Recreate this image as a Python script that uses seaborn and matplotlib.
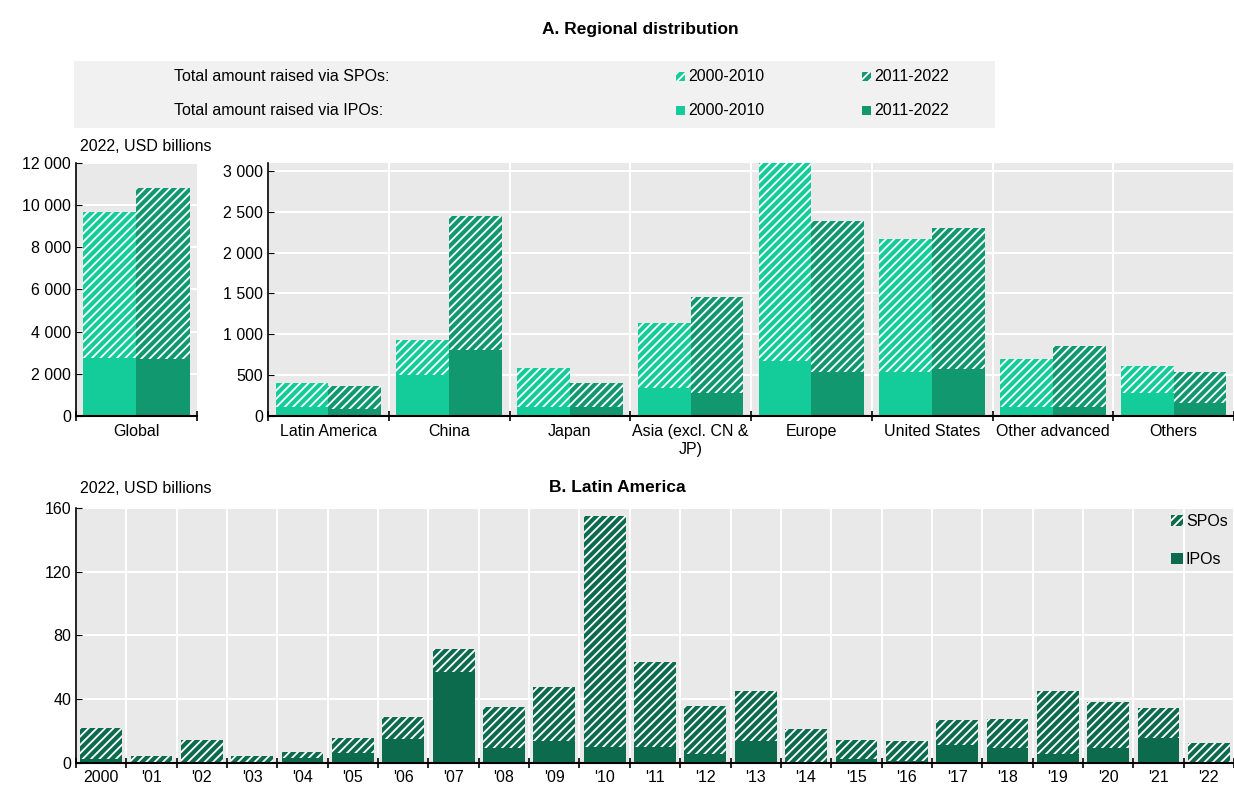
import matplotlib
matplotlib.use('Agg')
import matplotlib.pyplot as plt
from matplotlib.patches import Rectangle, Patch
from matplotlib.ticker import FuncFormatter, MultipleLocator, FixedLocator
import numpy as np
import pandas as pd
import seaborn as sns

# values (2022 USD billions)
periods = ['2000-2010', '2011-2022']
global_total = [9650, 10800]
global_ipo = [2750, 2700]

regions = ['Latin America', 'China', 'Japan', 'Asia (excl. CN &\nJP)', 'Europe',
           'United States', 'Other advanced', 'Others']
total_0010 = [400, 930, 590, 1140, 3150, 2165, 700, 607]
total_1122 = [372, 2445, 400, 1452, 2390, 2300, 852, 542]
ipo_0010 = [115, 505, 106, 342, 677, 534, 114, 281]
ipo_1122 = [82, 807, 106, 277, 542, 579, 114, 159]

years = ['2000', "'01", "'02", "'03", "'04", "'05", "'06", "'07", "'08", "'09", "'10",
         "'11", "'12", "'13", "'14", "'15", "'16", "'17", "'18", "'19", "'20", "'21", "'22"]
la_total = [22, 4.2, 14.3, 4.2, 6.7, 15.9, 28.7, 71.7, 35, 47.6, 155,
            63.3, 35.8, 45, 21.4, 14.3, 13.8, 26.8, 27.3, 45, 38, 34.8, 12.6]
la_ipo = [2.5, 0, 0, 0, 3.4, 6.3, 15.1, 56.8, 9.4, 13.8, 10,
          10, 5.5, 14, 0, 2.5, 1.3, 11.3, 9.6, 5.7, 9.6, 15.9, 0]

light = '#14cc99'
mid = '#11986f'
dark = '#0c6b4c'
bg = '#e9e9e9'
FS = 11.5
HATCH = '////'

plt.rcParams['font.family'] = ['Liberation Sans Narrow', 'Liberation Sans', 'DejaVu Sans']
plt.rcParams['font.size'] = FS
plt.rcParams['hatch.linewidth'] = 1.3
plt.rcParams['hatch.color'] = 'white'

fmt = FuncFormatter(lambda v, p: f'{v:,.0f}'.replace(',', ' '))


def style_ax(ax, n):
    ax.set_facecolor(bg)
    for s in ['top', 'right']:
        ax.spines[s].set_visible(False)
    ax.spines['left'].set_color('black')
    ax.spines['bottom'].set_color('black')
    ax.spines['left'].set_linewidth(1.2)
    ax.spines['bottom'].set_linewidth(1.5)
    ax.set_axisbelow(True)
    ax.grid(axis='y', color='white', lw=1.5)
    ax.xaxis.set_minor_locator(FixedLocator(np.arange(n + 1) - 0.5))
    ax.grid(axis='x', which='minor', color='white', lw=1.5)
    ax.grid(axis='x', which='major', visible=False)
    ax.tick_params(axis='x', which='major', length=0, pad=6, labelsize=FS)
    ax.tick_params(axis='x', which='minor', direction='inout', length=7, width=1.2)
    ax.tick_params(axis='y', direction='in', length=4, labelsize=FS)
    ax.set_xlim(-0.5, n - 0.5)
    ax.set_xlabel('')
    ax.set_ylabel('')


def hatch_all(ax):
    for p in ax.patches:
        p.set_hatch(HATCH)
        p.set_edgecolor('white')
        p.set_linewidth(0)


def stacked(ax, cats, tot_a, tot_b, ipo_a, ipo_b, width):
    df = pd.DataFrame({
        'cat': list(cats) + list(cats),
        'period': [periods[0]] * len(cats) + [periods[1]] * len(cats),
        'total': list(tot_a) + list(tot_b),
        'ipo': list(ipo_a) + list(ipo_b),
    })
    sns.barplot(data=df, x='cat', y='total', hue='period', palette=[light, mid],
                width=width, saturation=1, errorbar=None, legend=False, ax=ax)
    hatch_all(ax)
    sns.barplot(data=df, x='cat', y='ipo', hue='period', palette=[light, mid],
                width=width, saturation=1, errorbar=None, legend=False, ax=ax)


fig = plt.figure(figsize=(12.34, 7.86), dpi=100)

# panel A - global
ax_g = fig.add_axes([0.0616, 0.4707, 0.098, 0.3223])
stacked(ax_g, ['Global'], global_total[:1], global_total[1:], global_ipo[:1], global_ipo[1:], 0.88)
style_ax(ax_g, 1)
ax_g.set_ylim(0, 12000)
ax_g.yaxis.set_major_locator(MultipleLocator(2000))
ax_g.yaxis.set_major_formatter(fmt)
ax_g.grid(axis='x', which='minor', visible=False)

# panel A - regions
ax_r = fig.add_axes([0.2172, 0.4707, 0.7828, 0.3223])
stacked(ax_r, regions, total_0010, total_1122, ipo_0010, ipo_1122, 0.875)
style_ax(ax_r, len(regions))
ax_r.set_ylim(0, 3100)
ax_r.yaxis.set_major_locator(MultipleLocator(500))
ax_r.yaxis.set_major_formatter(fmt)

# panel B - Latin America by year
ax_b = fig.add_axes([0.0616, 0.0293, 0.9384, 0.3244])
sns.barplot(x=years, y=la_total, color=dark, saturation=1, width=0.83, ax=ax_b)
hatch_all(ax_b)
sns.barplot(x=years, y=la_ipo, color=dark, saturation=1, width=0.83, ax=ax_b)
style_ax(ax_b, len(years))
ax_b.set_ylim(0, 160)
ax_b.yaxis.set_major_locator(MultipleLocator(40))
ax_b.tick_params(axis='x', which='major', pad=5)
ax_b.legend(handles=[Patch(facecolor=dark, hatch=HATCH, edgecolor='white', lw=0, label='SPOs'),
                     Patch(facecolor=dark, lw=0, label='IPOs')],
            loc='upper right', frameon=False, fontsize=FS, handlelength=0.7, handleheight=0.7,
            handletextpad=0.2, labelspacing=1.4, borderaxespad=0.1, borderpad=0.3)

# titles and unit labels
fig.text(0.5186, 0.962, 'A. Regional distribution', ha='center', va='center',
         fontsize=12.5, fontweight='bold')
fig.text(0.5, 0.380, 'B. Latin America', ha='center', va='center',
         fontsize=12.5, fontweight='bold')
fig.text(0.065, 0.814, '2022, USD billions', ha='left', va='center', fontsize=FS)
fig.text(0.065, 0.379, '2022, USD billions', ha='left', va='center', fontsize=FS)

# legend box for panel A
fig.patches.append(Rectangle((0.06, 0.837), 0.746, 0.085, transform=fig.transFigure,
                             facecolor='#f1f1f1', edgecolor='none', zorder=0))
fig.text(0.141, 0.903, 'Total amount raised via SPOs:', ha='left', va='center', fontsize=FS)
fig.text(0.141, 0.859, 'Total amount raised via IPOs:', ha='left', va='center', fontsize=FS)
sq_w, sq_h = 9 / 1234, 9 / 786
for x0, col, lab in [(676 / 1234, light, periods[0]), (862 / 1234, mid, periods[1])]:
    for yc, hatch in [(0.903, HATCH), (0.859, None)]:
        fig.patches.append(Rectangle((x0, yc - sq_h / 2), sq_w, sq_h, transform=fig.transFigure,
                                     facecolor=col, edgecolor='white', lw=0, hatch=hatch, zorder=2))
        fig.text(x0 + 12 / 1234, yc, lab, ha='left', va='center', fontsize=FS)

fig.savefig('out.png', dpi=100)
